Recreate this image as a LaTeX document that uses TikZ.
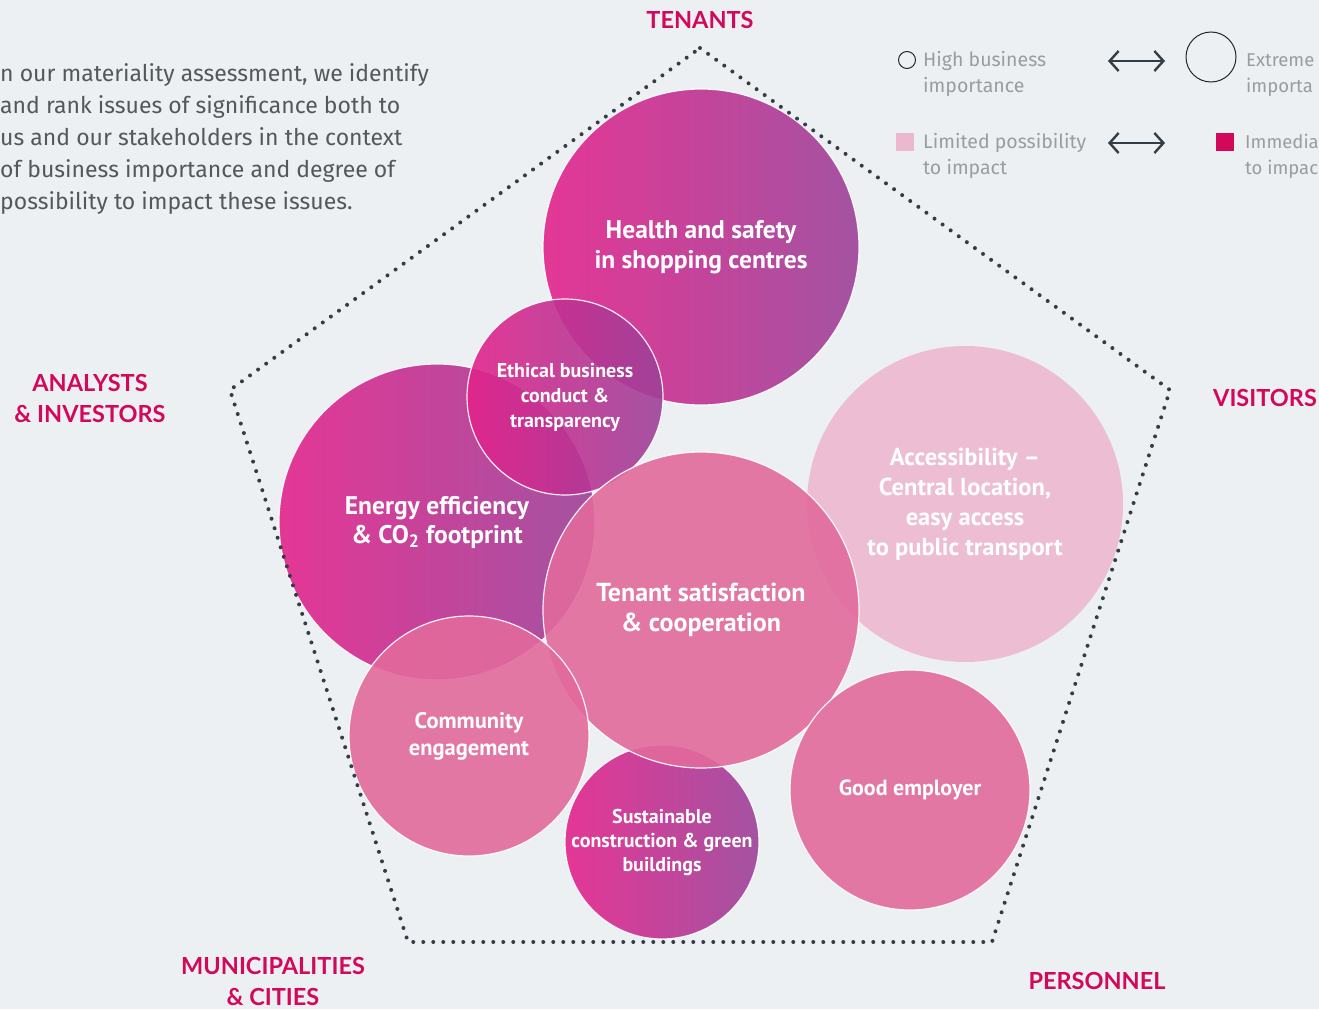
\documentclass[tikz,border=0pt]{standalone}
\usepackage{fontspec}
\setmainfont{Fira Sans}
\newfontfamily\bubblefont{PT Sans}
\newfontfamily\groupfont{Lato}
\usetikzlibrary{arrows.meta}
\usetikzlibrary{positioning}
\definecolor{bgGrey}{HTML}{EDF0F3}
\definecolor{magentaL}{HTML}{E3238C}
\definecolor{purpleR}{HTML}{9C4298}
\definecolor{rose}{HTML}{E26A9C}
\definecolor{blush}{HTML}{ECB8D0}
\definecolor{crimson}{HTML}{D2085B}
\definecolor{dotGrey}{HTML}{333D45}
\definecolor{bodyGrey}{HTML}{55585B}
\definecolor{legendGrey}{HTML}{9A9C9E}
\newcommand{\bubbletext}[2]{\bubblefont\bfseries\fontsize{#1}{#2}\selectfont}
\tikzstyle{bubble} = [circle, draw=white, line width=1.2pt, text=white, align=center, inner sep=0pt, fill opacity=0.9, draw opacity=0.9, text opacity=1]
\tikzstyle{deep} = [bubble, left color=magentaL, right color=purpleR]
\tikzstyle{rosy} = [bubble, fill=rose]
\tikzstyle{pale} = [bubble, fill=blush, draw=none]
\tikzstyle{group} = [text=crimson, align=center, font=\groupfont\bfseries\fontsize{23.5}{31}\selectfont]
\tikzstyle{legendtext} = [text=legendGrey, align=left, anchor=base west, inner sep=0pt, font=\fontsize{19.5}{26}\selectfont]
\tikzstyle{dotline} = [draw=dotGrey, line width=4pt, line cap=round, dash pattern=on 0pt off 10pt]
\tikzstyle{twoway} = [{Straight Barb[length=9pt,width=20pt]}-{Straight Barb[length=9pt,width=20pt]}, line width=2.4pt, draw=dotGrey]

\begin{document}
\begin{tikzpicture}[x=1pt, y=-1pt]

  % Background and page size
  \fill[bgGrey] (0,0) rectangle (1319,1009);
  \useasboundingbox (0,0) rectangle (1319,1009);

  % Introduction text (last line sits on the base anchor)
  \node (intro) [anchor=base west, align=left, inner sep=0pt, text=bodyGrey, font=\fontsize{23}{32}\selectfont] at (0,209)
    {n our materiality assessment, we identify\\and rank issues of significance both to\\us and our stakeholders in the context\\of business importance and degree of\\possibility to impact these issues.};

  % Legend
  \node (hiMark) [circle, draw=black!85, line width=1pt, minimum size=17pt, inner sep=0pt] at (907,60) {};
  \node (hiText) [legendtext] at (923,92) {High business\\importance};
  \node (extMark) [circle, draw=black!85, line width=1pt, minimum size=50pt, inner sep=0pt] at (1211,57) {};
  \node (extText) [legendtext, font=\fontsize{18.5}{26}\selectfont] at (1246,92) {Extreme\\importa};
  \node (limMark) [fill=blush, minimum size=18pt, inner sep=0pt] at (905,142) {};
  \node (limText) [legendtext] at (923,174) {Limited possibility\\to impact};
  \node (immMark) [fill=crimson, minimum size=18pt, inner sep=0pt] at (1225,142) {};
  \node (immText) [legendtext, font=\fontsize{18.5}{26}\selectfont] at (1245,174) {Immedia\\to impac};
  \coordinate (topArrowL) at (1108,61);
  \coordinate (topArrowR) at (1165,61);
  \coordinate (lowArrowL) at (1108,143);
  \coordinate (lowArrowR) at (1165,143);
  \draw [twoway] (topArrowL) -- (topArrowR);
  \draw [twoway] (lowArrowL) -- (lowArrowR);

  % The issues
  \node (health) [deep, minimum size=316pt, font=\bubbletext{25.5}{30}] at (701,247) {Health and safety\\in shopping centres};
  \node (energy) [deep, minimum size=316pt, font=\bubbletext{25.5}{29}] at (437,522) {Energy efficiency\\\& CO\textsubscript{2} footprint};
  \node (ethics) [deep, minimum size=196pt, font=\bubbletext{20}{25}] at (565,397) {Ethical business\\conduct \&\\transparency};
  \node (green) [deep, minimum size=194pt, font=\bubbletext{20}{24}] at (662,842) {Sustainable\\construction \& green\\buildings};
  \node (access) [pale, minimum size=316pt, font=\bubbletext{24.5}{30}] at (965,504) {Accessibility –\\Central location,\\easy access\\to public transport};
  \node (tenant) [rosy, minimum size=316pt, font=\bubbletext{26}{30}] at (701,610) {Tenant satisfaction\\\& cooperation};
  \node (community) [rosy, minimum size=240pt, font=\bubbletext{22.5}{27}] at (469,736) {Community\\engagement};
  \node (employer) [rosy, minimum size=240pt, font=\bubbletext{22}{27}] at (910,790) {Good employer};

  % Stakeholder pentagon
  \coordinate (cTop) at (700,48);
  \coordinate (cRight) at (1170,390);
  \coordinate (cLowRight) at (992,942);
  \coordinate (cLowLeft) at (408,942);
  \coordinate (cLeft) at (230,390);
  \draw [dotline] (cTop) -- (cRight) -- (cLowRight) -- (cLowLeft) -- (cLeft) -- cycle;

  \node (tenants) [group] at (700,20) {TENANTS};
  \node (investors) [group] at (90,398) {ANALYSTS\\\& INVESTORS};
  \node (visitors) [group] at (1265,398) {VISITORS};
  \node (cities) [group] at (273,981) {MUNICIPALITIES\\\& CITIES};
  \node (personnel) [group] at (1097,981) {PERSONNEL};

\end{tikzpicture}
\end{document}
